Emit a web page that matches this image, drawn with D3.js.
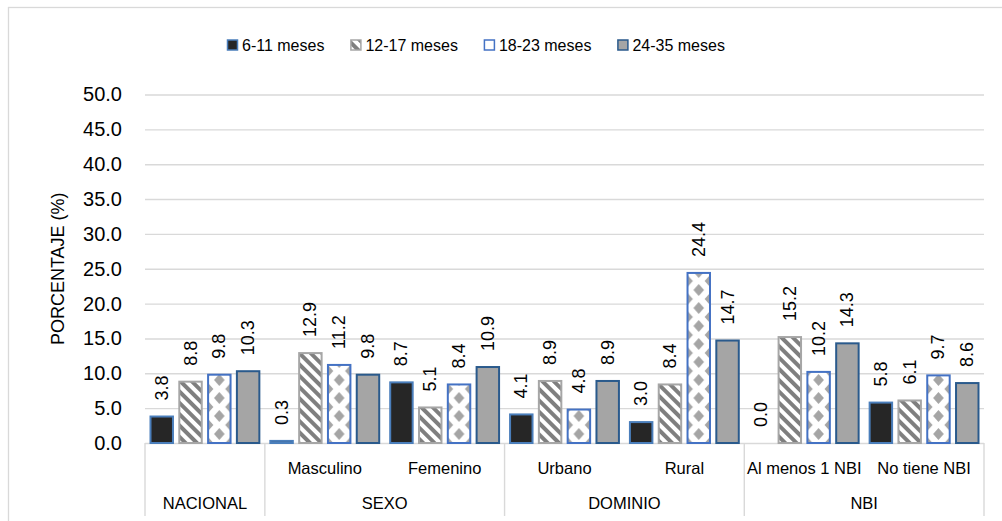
<!DOCTYPE html>
<html>
<head>
<meta charset="utf-8">
<script src="https://cdn.jsdelivr.net/npm/d3@7"></script>
<style>
  html, body { margin: 0; padding: 0; background: #fff; }
  svg { display: block; font-family: "Liberation Sans", Arial, sans-serif; }
</style>
</head>
<body>
<svg id="chart" width="1002" height="521"></svg>
<script>
// Categories on the inner axis row and the outer group row
const categories = ["NACIONAL", "Masculino", "Femenino", "Urbano", "Rural", "Al menos 1 NBI", "No tiene NBI"];
const innerLabels = ["", "Masculino", "Femenino", "Urbano", "Rural", "Al menos 1 NBI", "No tiene NBI"];
const groups = ["NACIONAL", "SEXO", "DOMINIO", "NBI"];
const groupSpans = [1, 2, 2, 2];

// Age series (percent)
const seriesNames = ["6-11 meses", "12-17 meses", "18-23 meses", "24-35 meses"];
const s6_11  = [3.8, 0.3, 8.7, 4.1, 3.0, 0.0, 5.8];
const s12_17 = [8.8, 12.9, 5.1, 8.9, 8.4, 15.2, 6.1];
const s18_23 = [9.8, 11.2, 8.4, 4.8, 24.4, 10.2, 9.7];
const s24_35 = [10.3, 9.8, 10.9, 8.9, 14.7, 14.3, 8.6];
const seriesValues = [s6_11, s12_17, s18_23, s24_35];

const yTicks = [0, 5, 10, 15, 20, 25, 30, 35, 40, 45, 50];
const yTitle = "PORCENTAJE (%)";

const svg = d3.select("#chart");
const plot = { left: 145, right: 984, top: 94.5, bottom: 443 };

const y = d3.scaleLinear().domain([0, 50]).range([plot.bottom, plot.top]);
const x0 = d3.scaleBand().domain(d3.range(categories.length)).range([plot.left, plot.right]).padding(0);
const x1 = d3.scaleBand().domain(seriesNames).range([5.5, x0.bandwidth() - 5.5]).paddingInner(0.22);

// Fill patterns
const defs = svg.append("defs");
const hatch = defs.append("pattern")
  .attr("id", "hatch").attr("patternUnits", "userSpaceOnUse")
  .attr("width", 8).attr("height", 8)
  .attr("patternTransform", "rotate(-45)");
hatch.append("rect").attr("width", 8).attr("height", 8).attr("fill", "#fff");
hatch.append("rect").attr("width", 4).attr("height", 8).attr("fill", "#7f7f7f");

// Diamond lattice, one per category so each bar shows a centred column
const bw = x1.bandwidth();
categories.forEach((c, ci) => {
  const px = x0(ci) + x1(seriesNames[2]);
  const p = defs.append("pattern")
    .attr("id", "diamond" + ci).attr("patternUnits", "userSpaceOnUse")
    .attr("x", px).attr("y", plot.bottom)
    .attr("width", bw).attr("height", 18);
  p.append("rect").attr("width", bw).attr("height", 18).attr("fill", "#fff");
  [[0, 0], [bw, 0], [0, 18], [bw, 18], [bw / 2, 9]].forEach(([cx, cy]) => {
    p.append("path")
      .attr("d", `M${cx},${cy - 6}L${cx + 5.3},${cy}L${cx},${cy + 6}L${cx - 5.3},${cy}Z`)
      .attr("fill", "#a5a5a5");
  });
});

const styles = [
  { fill: () => "#262626", stroke: "#4a7ebb" },
  { fill: () => "url(#hatch)", stroke: "#a6a6a6" },
  { fill: ci => `url(#diamond${ci})`, stroke: "#4472c4" },
  { fill: () => "#a5a5a5", stroke: "#2a5a8c" }
];

// Chart frame
svg.append("rect")
  .attr("x", 8.5).attr("y", 7.5).attr("width", 1010).attr("height", 530)
  .attr("fill", "none").attr("stroke", "#d9d9d9").attr("stroke-width", 1.3);

// Gridlines and y tick labels
const yAxis = d3.axisLeft(y).tickValues(yTicks).tickFormat(d3.format(".1f"))
  .tickSize(-(plot.right - plot.left)).tickPadding(23);
const gy = svg.append("g").attr("transform", `translate(${plot.left},0)`).call(yAxis);
gy.select(".domain").remove();
gy.selectAll(".tick line").attr("stroke", "#d9d9d9").attr("stroke-width", 1.4);
gy.selectAll(".tick text").attr("font-size", 20).attr("fill", "#000")
  .attr("font-family", "Liberation Sans, Arial, sans-serif");

// Axis title
svg.append("text")
  .attr("transform", `translate(58,${(plot.top + plot.bottom) / 2}) rotate(-90)`)
  .attr("text-anchor", "middle").attr("dominant-baseline", "central")
  .attr("font-size", 18).attr("fill", "#000").text(yTitle);

// Bars
const series = svg.append("g").selectAll("g")
  .data(seriesValues).join("g")
  .attr("data-series", (d, i) => seriesNames[i]);

series.each(function (vals, si) {
  const g = d3.select(this);
  g.selectAll("rect").data(vals).join("rect")
    .attr("x", (d, ci) => x0(ci) + x1(seriesNames[si]))
    .attr("y", d => y(d))
    .attr("width", bw)
    .attr("height", d => y(0) - y(d))
    .attr("fill", (d, ci) => styles[si].fill(ci))
    .attr("stroke", styles[si].stroke)
    .attr("stroke-width", 2);
  g.selectAll("text").data(vals).join("text")
    .attr("transform", (d, ci) => `translate(${x0(ci) + x1(seriesNames[si]) + bw / 2},${y(d) - 16}) rotate(-90)`)
    .attr("text-anchor", "start").attr("dominant-baseline", "central")
    .attr("font-size", 18).attr("fill", "#000")
    .text(d => d3.format(".1f")(d));
});

// Category axis: inner labels, group labels and separators
const axisBottom = 516;
const cat = svg.append("g");
cat.selectAll("text.inner").data(innerLabels).join("text")
  .attr("class", "inner")
  .attr("x", (d, i) => x0(i) + x0.bandwidth() / 2)
  .attr("y", 468).attr("dominant-baseline", "central").attr("text-anchor", "middle")
  .attr("font-size", 16.5).attr("fill", "#000").text(d => d);

let start = 0;
const groupInfo = groups.map((g, i) => {
  const info = { name: g, from: start, to: start + groupSpans[i] };
  start += groupSpans[i];
  return info;
});
cat.selectAll("text.outer").data(groupInfo).join("text")
  .attr("class", "outer")
  .attr("x", d => (x0(d.from) + (d.to < categories.length ? x0(d.to) : plot.right)) / 2)
  .attr("y", 503).attr("dominant-baseline", "central").attr("text-anchor", "middle")
  .attr("font-size", 16.5).attr("fill", "#000").text(d => d.name);

const seps = [0].concat(groupInfo.map(d => d.to));
cat.selectAll("line").data(seps).join("line")
  .attr("x1", d => d < categories.length ? x0(d) : plot.right)
  .attr("x2", d => d < categories.length ? x0(d) : plot.right)
  .attr("y1", plot.bottom).attr("y2", axisBottom)
  .attr("stroke", "#d9d9d9").attr("stroke-width", 1.4);

// Legend
const legend = svg.append("g").attr("transform", "translate(227,45)");
let lx = 0;
seriesNames.forEach((name, i) => {
  const item = legend.append("g").attr("transform", `translate(${lx},0)`);
  item.append("rect").attr("x", 0.5).attr("y", -5).attr("width", 10).attr("height", 10)
    .attr("fill", i === 2 ? "#fff" : styles[i].fill(0))
    .attr("stroke", styles[i].stroke).attr("stroke-width", 1.5);
  const t = item.append("text").attr("x", 15).attr("y", 0)
    .attr("dominant-baseline", "central").attr("font-size", 16).attr("fill", "#000").text(name);
  lx += 15 + t.node().getComputedTextLength() + 26;
});
</script>
</body>
</html>
